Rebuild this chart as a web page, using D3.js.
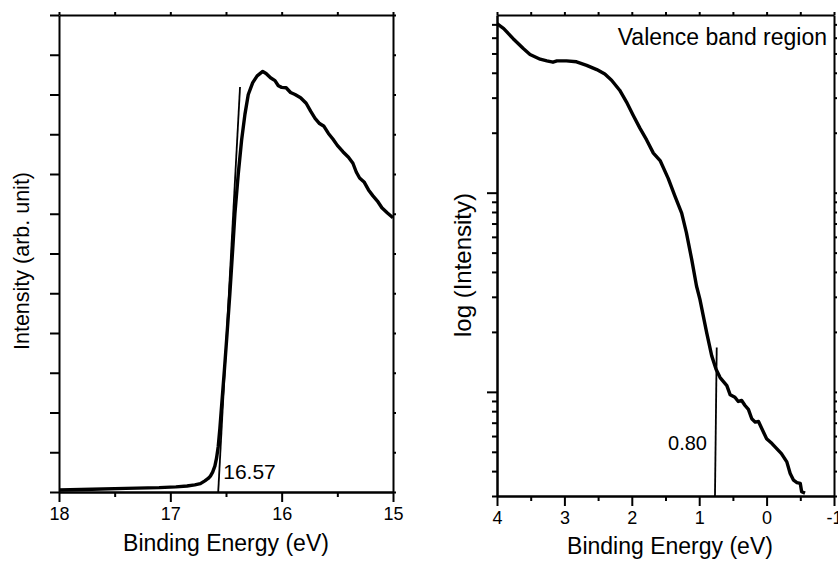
<!DOCTYPE html>
<html>
<head>
<meta charset="utf-8">
<script src="https://cdn.jsdelivr.net/npm/d3@7"></script>
<style>
  body { margin: 0; background: #fff; }
  svg { display: block; font-family: "Liberation Sans", Arial, sans-serif; }
  .axis path, .axis line { stroke: #000; stroke-width: 2; }
  .axis text { font-size: 18px; fill: #000; }
</style>
</head>
<body>
<div id="chart"></div>
<script>
// ---- left panel: secondary electron cutoff (linear intensity, arb. units) ----
const cutoffEnergy = [18.0, 17.7, 17.4, 17.1, 16.95, 16.85, 16.78, 16.73, 16.69, 16.66, 16.64, 16.62,
  16.6, 16.585, 16.57, 16.555, 16.54, 16.515, 16.49, 16.465, 16.44, 16.42, 16.39, 16.36, 16.33, 16.3,
  16.26, 16.22, 16.17, 16.14, 16.1, 16.06, 16.03, 16.0, 15.96, 15.92, 15.88, 15.83, 15.78, 15.74, 15.7,
  15.66, 15.62, 15.58, 15.54, 15.5, 15.45, 15.4, 15.36, 15.33, 15.3, 15.26, 15.22, 15.18, 15.14, 15.1,
  15.05, 15.0];
const cutoffIntensity = [0.05, 0.07, 0.09, 0.11, 0.13, 0.15, 0.18, 0.21, 0.28, 0.34, 0.4, 0.5,
  0.65, 0.85, 1.14, 1.6, 2.15, 3.05, 4.0, 5.0, 6.1, 7.0, 8.0, 8.85, 9.5, 10.0,
  10.3, 10.47, 10.58, 10.53, 10.42, 10.35, 10.22, 10.18, 10.17, 10.05, 10.0, 9.92, 9.78, 9.58, 9.4,
  9.27, 9.2, 9.02, 8.88, 8.72, 8.56, 8.42, 8.27, 8.05, 7.9, 7.8, 7.6, 7.45, 7.32, 7.15,
  7.02, 6.9];
const cutoffFitEnergy = [16.57, 16.374];
const cutoffFitIntensity = [0, 10.19];
const cutoffLabel = "16.57";

// ---- right panel: valence band region (log intensity) ----
const vbEnergy = [4.0, 3.9, 3.76, 3.61, 3.51, 3.36, 3.26, 3.17, 3.11, 2.97, 2.82, 2.67, 2.52, 2.4, 2.3,
  2.18, 2.08, 1.98, 1.88, 1.78, 1.68, 1.58, 1.46, 1.36, 1.26, 1.19, 1.11, 1.04, 0.99, 0.89, 0.815,
  0.75, 0.69, 0.59, 0.54, 0.47, 0.42, 0.37, 0.32, 0.27, 0.22, 0.17, 0.12, 0.07, 0.0, -0.08, -0.15,
  -0.22, -0.3, -0.35, -0.4, -0.45, -0.5, -0.52, -0.57];
const vbIntensity = [70.5, 66.6, 59.3, 52.9, 49.4, 46.8, 45.9, 45.2, 45.9, 45.9, 45.4, 43.6, 41.5, 39.4, 36.7,
  32.7, 28.6, 24.5, 21.1, 18.4, 15.8, 14.5, 11.8, 9.6, 7.9, 6.3, 4.6, 3.4, 2.92, 1.99, 1.52,
  1.30, 1.18, 1.075, 0.966, 0.94, 0.895, 0.905, 0.854, 0.816, 0.733, 0.705, 0.71, 0.653, 0.582, 0.55, 0.519,
  0.49, 0.445, 0.389, 0.36, 0.35, 0.347, 0.315, 0.31];
const vbFitEnergy = [0.766, 0.74];
const vbFitIntensity = [0.3, 1.67];
const vbLabel = "0.80";

const leftXTicks = [18, 17, 16, 15];
const leftXMinor = [17.5, 16.5, 15.5];
const leftYTicks = d3.range(0, 13);
const rightXTicks = [4, 3, 2, 1, 0, -1];
const rightXMinor = [3.5, 2.5, 1.5, 0.5, -0.5];
const rightYMajor = [1, 10];
const rightYMinor = [0.3, 0.4, 0.5, 0.6, 0.7, 0.8, 0.9, 2, 3, 4, 5, 6, 7, 8, 9, 20, 30, 40, 50, 60, 70];

const W = 838, H = 569;
const svg = d3.select("#chart").append("svg").attr("width", W).attr("height", H);

// ================= left panel =================
const xL = d3.scaleLinear().domain([18, 15]).range([59, 393]);
const yL = d3.scaleLinear().domain([0, 12]).range([492, 15]);

const gL = svg.append("g");

gL.append("g").attr("class", "axis").attr("transform", `translate(0,${yL(0)})`)
  .call(d3.axisBottom(xL).tickValues(leftXMinor).tickSize(5).tickSizeOuter(0).tickFormat(""));
gL.append("g").attr("class", "axis").attr("transform", `translate(0,${yL(0)})`)
  .call(d3.axisBottom(xL).tickValues(leftXTicks).tickSize(10).tickSizeOuter(0).tickPadding(5).tickFormat(d => String(d)));
gL.append("g").attr("class", "axis").attr("transform", `translate(0,${yL(12)})`)
  .call(d3.axisTop(xL).tickValues(leftXTicks.concat(leftXMinor)).tickSize(3).tickSizeOuter(0).tickFormat(""));
gL.append("g").attr("class", "axis").attr("transform", `translate(${xL(18)},0)`)
  .call(d3.axisLeft(yL).tickValues(leftYTicks).tickSize(9).tickSizeOuter(0).tickFormat(""));
gL.append("g").attr("class", "axis").attr("transform", `translate(${xL(15)},0)`)
  .call(d3.axisRight(yL).tickValues(leftYTicks).tickSize(3).tickSizeOuter(0).tickFormat(""));

const lineL = d3.line().x(d => xL(d[0])).y(d => yL(d[1]));
gL.append("path")
  .datum(cutoffEnergy.map((e, i) => [e, cutoffIntensity[i]]))
  .attr("d", lineL).attr("fill", "none").attr("stroke", "#000")
  .attr("stroke-width", 3.4).attr("stroke-linejoin", "round");
gL.append("path")
  .datum(cutoffFitEnergy.map((e, i) => [e, cutoffFitIntensity[i]]))
  .attr("d", lineL).attr("fill", "none").attr("stroke", "#000").attr("stroke-width", 1.8);

gL.append("text").attr("x", xL(16.57) + 5).attr("y", 479)
  .attr("font-size", 21).text(cutoffLabel);

gL.append("text").attr("x", (xL(18) + xL(15)) / 2).attr("y", 551)
  .attr("text-anchor", "middle").attr("font-size", 23).text("Binding Energy (eV)");
gL.append("text").attr("transform", "translate(22,261) rotate(-90)")
  .attr("text-anchor", "middle").attr("dominant-baseline", "central")
  .attr("font-size", 21.5).text("Intensity (arb. unit)");

// ================= right panel =================
const xR = d3.scaleLinear().domain([4, -1]).range([497, 834]);
const yR = d3.scaleLog().domain([0.3, 78]).range([496, 15]);

const gR = svg.append("g");
const allX = rightXTicks.concat(rightXMinor);
const allY = rightYMajor.concat(rightYMinor);

gR.append("g").attr("class", "axis").attr("transform", `translate(0,${yR(0.3)})`)
  .call(d3.axisBottom(xR).tickValues(rightXMinor).tickSize(5).tickSizeOuter(0).tickFormat(""));
gR.append("g").attr("class", "axis").attr("transform", `translate(0,${yR(0.3)})`)
  .call(d3.axisBottom(xR).tickValues(rightXTicks).tickSize(10).tickSizeOuter(0).tickPadding(5).tickFormat(d => String(d)));
gR.append("g").attr("class", "axis").attr("transform", `translate(0,${yR(78)})`)
  .call(d3.axisTop(xR).tickValues(allX).tickSize(3).tickSizeOuter(0).tickFormat(""));
gR.append("g").attr("class", "axis").attr("transform", `translate(${xR(4)},0)`)
  .call(d3.axisLeft(yR).tickValues(rightYMinor).tickSize(5).tickSizeOuter(0).tickFormat(""));
gR.append("g").attr("class", "axis").attr("transform", `translate(${xR(4)},0)`)
  .call(d3.axisLeft(yR).tickValues(rightYMajor).tickSize(10).tickSizeOuter(0).tickFormat(""));
gR.append("g").attr("class", "axis").attr("transform", `translate(${xR(-1)},0)`)
  .call(d3.axisRight(yR).tickValues(allY).tickSize(3).tickSizeOuter(0).tickFormat(""));

const lineR = d3.line().x(d => xR(d[0])).y(d => yR(d[1]));
gR.append("path")
  .datum(vbEnergy.map((e, i) => [e, vbIntensity[i]]))
  .attr("d", lineR).attr("fill", "none").attr("stroke", "#000")
  .attr("stroke-width", 3.4).attr("stroke-linejoin", "round");
gR.append("path")
  .datum(vbFitEnergy.map((e, i) => [e, vbFitIntensity[i]]))
  .attr("d", lineR).attr("fill", "none").attr("stroke", "#000").attr("stroke-width", 1.8);

gR.append("text").attr("x", xR(0.766) - 8).attr("y", 450)
  .attr("text-anchor", "end").attr("font-size", 20).text(vbLabel);
gR.append("text").attr("x", 827).attr("y", 45)
  .attr("text-anchor", "end").attr("font-size", 23).text("Valence band region");

gR.append("text").attr("x", 670).attr("y", 554)
  .attr("text-anchor", "middle").attr("font-size", 23).text("Binding Energy (eV)");
gR.append("text").attr("transform", "translate(462,265) rotate(-90)")
  .attr("text-anchor", "middle").attr("dominant-baseline", "central")
  .attr("font-size", 24).text("log (Intensity)");
</script>
</body>
</html>
